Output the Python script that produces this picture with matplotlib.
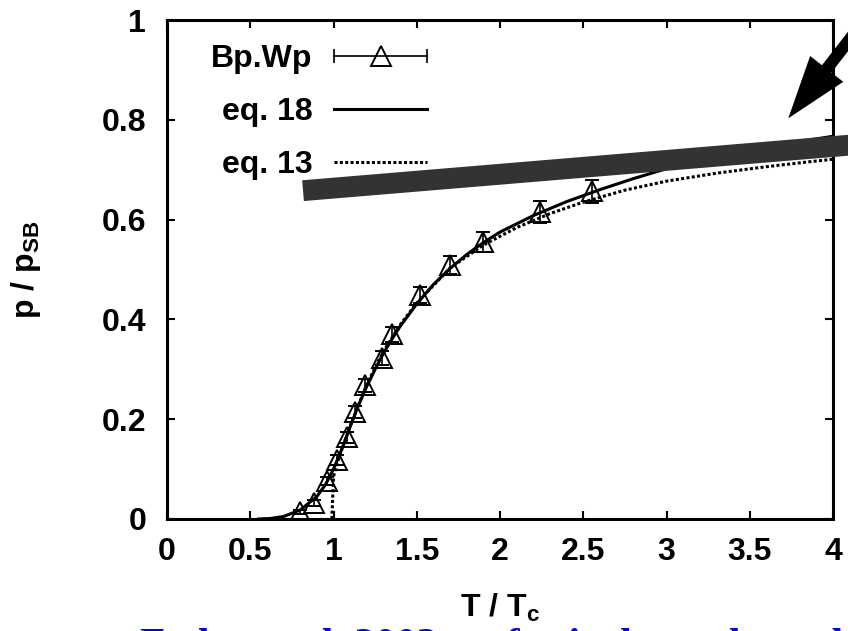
import matplotlib
matplotlib.use('Agg')
import matplotlib.pyplot as plt
import numpy as np
from matplotlib.lines import Line2D
from matplotlib.patches import Polygon
from matplotlib.ticker import FormatStrFormatter
from matplotlib.legend_handler import HandlerLine2D

plt.rcParams['font.family'] = ['Liberation Sans', 'DejaVu Sans']
plt.rcParams['font.weight'] = 'bold'
plt.rcParams['axes.labelweight'] = 'bold'
plt.rcParams['mathtext.fontset'] = 'custom'
plt.rcParams['mathtext.rm'] = 'Liberation Sans:bold'
plt.rcParams['mathtext.it'] = 'Liberation Sans:bold'
plt.rcParams['mathtext.bf'] = 'Liberation Sans:bold'

# Bp.Wp lattice points
t_lat = [0.80, 0.88, 0.96, 1.02, 1.08, 1.13, 1.19, 1.29, 1.35, 1.52, 1.70, 1.90, 2.24, 2.55]
p_lat = [0.015, 0.032, 0.076, 0.118, 0.164, 0.214, 0.268, 0.322, 0.370, 0.449, 0.509, 0.555, 0.615, 0.657]
p_err = [0.004, 0.006, 0.008, 0.010, 0.011, 0.012, 0.013, 0.014, 0.015, 0.016, 0.018, 0.020, 0.022, 0.023]

# eq. 18 curve
t_eq18 = [0.55, 0.62, 0.70, 0.80, 0.90, 0.95, 1.00, 1.05, 1.10, 1.15, 1.20, 1.25, 1.30, 1.35,
          1.40, 1.50, 1.60, 1.70, 1.80, 1.90, 2.00, 2.20, 2.40, 2.60, 2.80, 3.00, 3.25, 3.50, 3.75, 4.00]
p_eq18 = [0.000, 0.001, 0.005, 0.018, 0.045, 0.068, 0.100, 0.140, 0.185, 0.228, 0.266, 0.300, 0.332, 0.360,
          0.386, 0.431, 0.470, 0.502, 0.530, 0.554, 0.575, 0.608, 0.636, 0.660, 0.682, 0.702, 0.722, 0.739, 0.754, 0.767]

# eq. 13 curve
t_eq13 = [0.99, 0.995, 1.00, 1.02, 1.05, 1.10, 1.20, 1.30, 1.40, 1.50, 1.70, 1.90, 2.10, 2.30,
          2.50, 2.75, 3.00, 3.30, 3.60, 3.86, 4.00]
p_eq13 = [0.000, 0.040, 0.085, 0.110, 0.140, 0.186, 0.270, 0.336, 0.389, 0.433, 0.503, 0.549, 0.584, 0.612,
          0.635, 0.659, 0.677, 0.693, 0.706, 0.716, 0.721]

x_ticks = [0, 0.5, 1, 1.5, 2, 2.5, 3, 3.5, 4]
y_ticks = [0, 0.2, 0.4, 0.6, 0.8, 1]

W, H = 848, 631
fig = plt.figure(figsize=(W / 100, H / 100), dpi=100)
ax = fig.add_axes([167 / W, 1 - 519 / H, (833 - 167) / W, (519 - 20) / H])

dotted = (0, (1.0, 0.75))
ax.plot(t_eq18, p_eq18, color='k', lw=2.2, zorder=3)
ax.plot(t_eq13, p_eq13, color='k', lw=2.2, ls=dotted, zorder=3)
ax.errorbar(t_lat, p_lat, yerr=p_err, fmt='^', ms=15, mfc='none', mec='k', mew=1.4,
            ecolor='k', elinewidth=1.2, capsize=5, capthick=1.2, zorder=4)

ax.set_xlim(0, 4)
ax.set_ylim(0, 1)
ax.set_xticks(x_ticks)
ax.set_yticks(y_ticks)
ax.xaxis.set_major_formatter(FormatStrFormatter('%g'))
ax.yaxis.set_major_formatter(FormatStrFormatter('%g'))
ax.tick_params(direction='in', length=6, width=1.5, top=True, right=True, labelsize=23)
ax.tick_params(axis='x', pad=13)
ax.tick_params(axis='y', pad=15)
for s in ax.spines.values():
    s.set_linewidth(2.2)

ax.set_xlabel('T / T$_c$', fontsize=23, fontweight='bold')
ax.xaxis.set_label_coords(0.5, -0.146)
ax.set_ylabel('p / p$_{SB}$', fontsize=23, fontweight='bold')
ax.yaxis.set_label_coords(-0.186, 0.5)

# legend: labels on the left, samples on the right
caps = Line2D([], [], color='k', lw=1.2, marker='|', ms=10, mew=1.2)
tri = Line2D([], [], ls='none', marker='^', ms=15, mfc='none', mec='k', mew=1.4)
l18 = Line2D([], [], color='k', lw=2.2)
l13 = Line2D([], [], color='k', lw=2.2, ls=dotted)
ax.legend([(caps, tri), l18, l13], ['Bp.Wp', 'eq. 18', 'eq. 13'],
          markerfirst=False, frameon=False, loc='upper left',
          bbox_to_anchor=(0.066, 0.952), borderpad=0, borderaxespad=0,
          handlelength=2.9, handletextpad=0.69, labelspacing=0.72, fontsize=23,
          handler_map={caps: HandlerLine2D(numpoints=2, marker_pad=0),
                       tri: HandlerLine2D(numpoints=1)})

# thick gray band across the upper part of the curves
ax.plot([0.817, 4.2], [0.658, 0.752], color='#333333', lw=15, solid_capstyle='butt',
        clip_on=False, zorder=6)

# black arrow pointing at the band from the top right
tip = np.array([788.3, 118.3])
base = np.array([826.7, 68.9])
u = (base - tip) / np.linalg.norm(base - tip)
n = np.array([-u[1], u[0]])
tail = base + 90 * u
pts = [tip, base + 21 * n, base + 6 * n, tail + 6 * n, tail - 6 * n, base - 6 * n, base - 21 * n]
pts = [(x / W, 1 - y / H) for x, y in pts]
fig.add_artist(Polygon(pts, closed=True, facecolor='k', edgecolor='none',
                       transform=fig.transFigure, zorder=7))

# caption underneath, mostly below the bottom edge
fig.text(140 / W, 1 - 656.5 / H, 'Fodor et al. 2003, as for its lower bound',
         color='#0000ff', fontsize=30, family='Liberation Serif', weight='bold',
         va='baseline', ha='left')

fig.savefig('out.png', dpi=100)
